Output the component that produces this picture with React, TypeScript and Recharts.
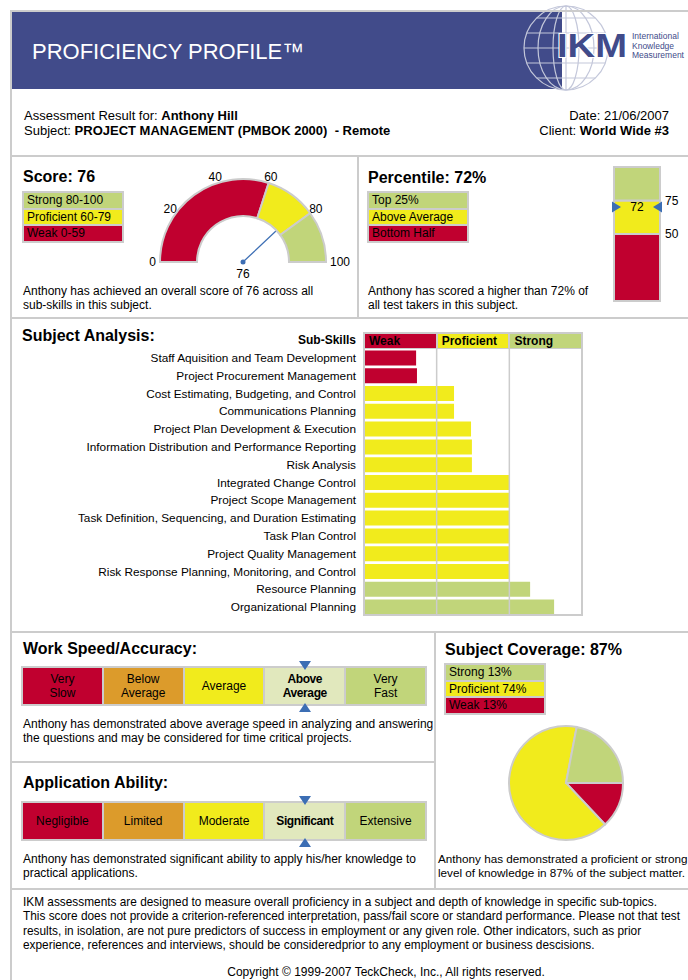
import React from "react";
import {
  PieChart,
  Pie,
  Cell,
  BarChart,
  Bar,
  XAxis,
  YAxis,
  ReferenceLine,
} from "recharts";

const RED = "#c0002f";
const YELLOW = "#f1eb1c";
const GREEN = "#c1d57a";
const ORANGE = "#dc9b2b";
const PALE = "#e1e8bd";
const BLUE = "#414b8a";
const MARK = "#3c6eb4";
const LINE = "#cccccc";
const FONT = "'Liberation Sans', Arial, sans-serif";

const LEVEL_COLOR: Record<string, string> = {
  Weak: RED,
  Proficient: YELLOW,
  Strong: GREEN,
};
const SCALE_COLORS = [RED, ORANGE, YELLOW, PALE, GREEN];

// ── data ──

const candidate = "Anthony Hill";
const subject = "PROJECT MANAGEMENT (PMBOK 2000)  - Remote";
const reportDate = "21/06/2007";
const client = "World Wide #3";

const score = 76;
const gaugeBands = ["Weak", "Proficient", "Strong"];
const gaugeBandWidths = [60, 20, 20];
const gaugeTicks = [0, 20, 40, 60, 80, 100];
const scoreLegend = ["Strong 80-100", "Proficient 60-79", "Weak 0-59"];

const percentile = 72;
const percentileBands = ["Bottom Half", "Above Average", "Top 25%"];
const percentileBandWidths = [50, 25, 25];
const percentileTicks = [50, 75];
const percentileLegend = ["Top 25%", "Above Average", "Bottom Half"];

const subSkills = [
  "Staff Aquisition and Team Development",
  "Project Procurement Management",
  "Cost Estimating, Budgeting, and Control",
  "Communications Planning",
  "Project Plan Development & Execution",
  "Information Distribution and Performance Reporting",
  "Risk Analysis",
  "Integrated Change Control",
  "Project Scope Management",
  "Task Definition, Sequencing, and Duration Estimating",
  "Task Plan Control",
  "Project Quality Management",
  "Risk Response Planning, Monitoring, and Control",
  "Resource Planning",
  "Organizational Planning",
];
const subSkillValues = [
  23.9, 24.3, 41.3, 41.3, 49.1, 49.5, 49.5, 66.7, 66.7, 66.7, 66.7, 66.7, 66.7,
  76.2, 87.2,
];
const subSkillLevels = [
  "Weak", "Weak", "Proficient", "Proficient", "Proficient", "Proficient",
  "Proficient", "Proficient", "Proficient", "Proficient", "Proficient",
  "Proficient", "Proficient", "Strong", "Strong",
];
const skillBandEdges = [33.33, 66.67];
const skillHeaders = ["Weak", "Proficient", "Strong"];

const speedLevels = ["Very\nSlow", "Below\nAverage", "Average", "Above\nAverage", "Very\nFast"];
const speedResult = 3;
const abilityLevels = ["Negligible", "Limited", "Moderate", "Significant", "Extensive"];
const abilityResult = 3;

const coverage = 87;
const coverageLegend = ["Strong 13%", "Proficient 74%", "Weak 13%"];
const coverageSlices = ["Weak", "Proficient", "Strong"];
const coverageSliceValues = [13, 65, 22];

const footerLines = [
  "IKM assessments are designed to measure overall proficiency in a subject and depth of knowledge in specific sub-topics.",
  "This score does not provide a criterion-referenced interpretation, pass/fail score or standard performance. Please not that test",
  "results, in isolation, are not pure predictors of success in employment or any given role. Other indicators, such as prior",
  "experience, references and interviews, should be consideredprior to any employment or business descisions.",
];

// ── helpers ──

function Box({ x, y, w, h, style, children }: any) {
  return (
    <div
      style={{
        position: "absolute",
        left: x,
        top: y,
        width: w,
        height: h,
        ...style,
      }}
    >
      {children}
    </div>
  );
}

function Text({ x, y, size = 12, bold = false, align = "left", w, children }: any) {
  return (
    <div
      style={{
        position: "absolute",
        left: x,
        top: y,
        width: w,
        fontSize: size,
        lineHeight: `${Math.round(size * 1.15)}px`,
        fontWeight: bold ? "bold" : "normal",
        textAlign: align,
        whiteSpace: "pre",
      }}
    >
      {children}
    </div>
  );
}

function Legend({ x, y, items, colors }: any) {
  return (
    <div
      style={{
        position: "absolute",
        left: x,
        top: y,
        width: 100,
        border: `1px solid ${LINE}`,
      }}
    >
      {items.map((label: string, i: number) => (
        <div
          key={label}
          style={{
            height: 14.5,
            background: colors[i],
            border: `1px solid ${LINE}`,
            fontSize: 12,
            lineHeight: "14.5px",
            paddingLeft: 3,
          }}
        >
          {label}
        </div>
      ))}
    </div>
  );
}

// ── Score gauge ──

function Gauge() {
  const cx = 100;
  const cy = 97;
  const rows = gaugeBands.map((name, i) => ({ name, value: gaugeBandWidths[i] }));
  const rad = (v: number) => ((180 - v * 1.8) * Math.PI) / 180;
  const needleX = cx + 66 * Math.cos(rad(score));
  const needleY = cy - 66 * Math.sin(rad(score));
  return (
    <PieChart width={210} height={125} margin={{ top: 0, right: 0, bottom: 0, left: 0 }}>
      <Pie
        data={rows}
        dataKey="value"
        cx={cx}
        cy={cy}
        innerRadius={46}
        outerRadius={83}
        startAngle={180}
        endAngle={0}
        stroke={LINE}
        strokeWidth={2}
        isAnimationActive={false}
      >
        {rows.map((r) => (
          <Cell key={r.name} fill={LEVEL_COLOR[r.name]} />
        ))}
      </Pie>
      <g fontFamily={FONT} fontSize={12} fill="#000">
        {gaugeTicks.map((t) => {
          const c = Math.cos(rad(t));
          const edge = Math.abs(c) > 0.99;
          const r = edge ? 87 : 90;
          return (
            <text
              key={t}
              x={cx + r * c}
              y={cy - r * Math.sin(rad(t))}
              dy="0.35em"
              textAnchor={edge ? (c < 0 ? "end" : "start") : "middle"}
            >
              {t}
            </text>
          );
        })}
        <text x={cx} y={cy} dy={15.5} textAnchor="middle">
          {score}
        </text>
      </g>
      <line x1={cx} y1={cy} x2={needleX} y2={needleY} stroke={MARK} strokeWidth={1.3} />
      <circle cx={cx} cy={cy} r={2.5} fill={MARK} />
    </PieChart>
  );
}

// ── Percentile bar ──

const PercentileMarker = (props: any) => {
  const { x, y, width } = props.viewBox;
  return (
    <g>
      <path d={`M${x - 2},${y - 3} L${x + 7},${y + 2.5} L${x - 2},${y + 8} Z`} fill={MARK} />
      <path
        d={`M${x + width + 2},${y - 3} L${x + width - 7},${y + 2.5} L${x + width + 2},${y + 8} Z`}
        fill={MARK}
      />
      <text x={x + width / 2} y={y + 2.5} dy="0.35em" textAnchor="middle" fontSize={12} fontFamily={FONT} fill="#000">
        {percentile}
      </text>
    </g>
  );
};

function PercentileBar() {
  const row: any = { name: "pct" };
  percentileBands.forEach((b, i) => (row[b] = percentileBandWidths[i]));
  const colors = [RED, YELLOW, GREEN];
  return (
    <BarChart
      width={84}
      height={146}
      data={[row]}
      margin={{ top: 5, right: 0, bottom: 7, left: 8 }}
      barCategoryGap={0}
    >
      <XAxis dataKey="name" hide />
      <YAxis
        orientation="right"
        domain={[0, 100]}
        ticks={percentileTicks}
        axisLine={false}
        tickLine={false}
        tickSize={3}
        tickMargin={2}
        width={30}
        tick={{ fill: "#000", fontSize: 12, fontFamily: FONT, textAnchor: "start" }}
      />
      {percentileBands.map((b, i) => (
        <Bar
          key={b}
          dataKey={b}
          stackId="p"
          fill={colors[i]}
          stroke={LINE}
          strokeWidth={2}
          isAnimationActive={false}
        />
      ))}
      <ReferenceLine y={percentile} stroke="none" label={<PercentileMarker />} />
    </BarChart>
  );
}

// ── Sub-skill bars ──

const SkillTick = ({ x, y, payload }: any) => (
  <text
    x={x}
    y={y}
    dy="0.35em"
    textAnchor="end"
    fontSize={11.8}
    fontFamily={FONT}
    fill="#000"
  >
    {payload.value}
  </text>
);

function SubSkillChart() {
  const rows = subSkills.map((skill, i) => ({
    skill,
    value: subSkillValues[i],
    level: subSkillLevels[i],
  }));
  return (
    <BarChart
      layout="vertical"
      width={522}
      height={267}
      data={rows}
      margin={{ top: 0, right: 0, bottom: 0, left: 0 }}
      barCategoryGap={1.4}
    >
      <XAxis type="number" domain={[0, 100]} hide />
      <YAxis
        type="category"
        dataKey="skill"
        width={304}
        interval={0}
        axisLine={false}
        tickLine={false}
        tickSize={0}
        tickMargin={8}
        tick={<SkillTick />}
      />
      <Bar dataKey="value" isAnimationActive={false}>
        {rows.map((r) => (
          <Cell key={r.skill} fill={LEVEL_COLOR[r.level]} />
        ))}
      </Bar>
      {skillBandEdges.map((e) => (
        <ReferenceLine key={e} x={e} stroke={LINE} strokeWidth={1.5} />
      ))}
    </BarChart>
  );
}

// ── Coverage pie ──

function CoveragePie() {
  const rows = coverageSlices.map((name, i) => ({ name, value: coverageSliceValues[i] }));
  return (
    <PieChart width={140} height={130} margin={{ top: 0, right: 0, bottom: 0, left: 0 }}>
      <Pie
        data={rows}
        dataKey="value"
        cx={70}
        cy={65}
        outerRadius={57}
        startAngle={0}
        endAngle={-360}
        stroke={LINE}
        strokeWidth={2}
        isAnimationActive={false}
      >
        {rows.map((r) => (
          <Cell key={r.name} fill={LEVEL_COLOR[r.name]} />
        ))}
      </Pie>
    </PieChart>
  );
}

// ── Level scale (speed / ability) ──

function LevelScale({ top, labels, selected }: any) {
  const left = 21;
  const width = 406;
  const height = 40;
  const mid = left + ((selected + 0.5) * width) / labels.length;
  return (
    <>
      <div
        style={{
          position: "absolute",
          left,
          top,
          width,
          height,
          display: "flex",
          border: `1px solid ${LINE}`,
          boxSizing: "border-box",
        }}
      >
        {labels.map((l: string, i: number) => (
          <div
            key={l}
            style={{
              flex: 1,
              background: SCALE_COLORS[i],
              border: `1px solid ${LINE}`,
              display: "flex",
              alignItems: "center",
              justifyContent: "center",
              textAlign: "center",
              whiteSpace: "pre",
              fontSize: 12,
              lineHeight: "14px",
              fontWeight: i === selected ? "bold" : "normal",
              letterSpacing: i === selected ? -0.4 : 0,
            }}
          >
            {l}
          </div>
        ))}
      </div>
      <svg style={{ position: "absolute", left: mid - 6, top: top - 5 }} width={12} height={9}>
        <polygon points="0,0 12,0 6,9" fill={MARK} />
      </svg>
      <svg style={{ position: "absolute", left: mid - 6, top: top + height - 3 }} width={12} height={9}>
        <polygon points="0,9 12,9 6,0" fill={MARK} />
      </svg>
    </>
  );
}

// ── Logo ──

function Logo() {
  const cx = 46;
  const cy = 48;
  const r = 42;
  const lats = [-30, -15, 0, 15, 30];
  return (
    <svg style={{ position: "absolute", left: 520, top: 0 }} width={168} height={100}>
      <g fill="none" stroke="#c3c7da" strokeWidth={1.2}>
        <circle cx={cx} cy={cy} r={r} />
        <ellipse cx={cx} cy={cy} rx={28} ry={r} />
        <ellipse cx={cx} cy={cy} rx={13} ry={r} />
        <line x1={cx} y1={cy - r} x2={cx} y2={cy + r} />
        {lats.map((d) => {
          const half = Math.sqrt(r * r - d * d);
          return <line key={d} x1={cx - half} y1={cy + d} x2={cx + half} y2={cy + d} />;
        })}
      </g>
      <text
        x={37}
        y={57}
        fontFamily={FONT}
        fontWeight="bold"
        fontSize={34}
        fill={BLUE}
        stroke="#fff"
        strokeWidth={2}
        paintOrder="stroke"
        textLength={70}
        lengthAdjust="spacingAndGlyphs"
      >
        IKM
      </text>
      <g fontFamily={FONT} fontSize={8.5} fill={BLUE}>
        <text x={112} y={39}>International</text>
        <text x={112} y={48.5}>Knowledge</text>
        <text x={112} y={58}>Measurement</text>
      </g>
    </svg>
  );
}

export default function App() {
  const hLine = (y: number, x1: number, x2: number) => (
    <Box x={x1} y={y} w={x2 - x1} h={2} style={{ background: LINE }} />
  );
  const vLine = (x: number, y1: number, y2: number) => (
    <Box x={x} y={y1} w={2} h={y2 - y1} style={{ background: LINE }} />
  );

  return (
    <div
      style={{
        position: "absolute",
        left: 0,
        top: 0,
        width: 688,
        height: 980,
        overflow: "hidden",
        background: "#fff",
        fontFamily: FONT,
        color: "#000",
      }}
    >
      {/* header */}
      <Box x={11} y={12} w={551} h={77} style={{ background: BLUE }} />
      <Logo />
      <div
        style={{
          position: "absolute",
          left: 32,
          top: 39,
          fontSize: 22,
          lineHeight: "25px",
          color: "#fff",
        }}
      >
        PROFICIENCY PROFILE™
      </div>

      <Text x={24} y={108} size={13}>
        Assessment Result for: <b>{candidate}</b>
      </Text>
      <Text x={24} y={123} size={13}>
        Subject: <b>{subject}</b>
      </Text>
      <Text x={419} y={108} w={250} size={13} align="right">
        Date: {reportDate}
      </Text>
      <Text x={419} y={123} w={250} size={13} align="right">
        Client: <b>{client}</b>
      </Text>

      {/* frame lines */}
      {hLine(10, 10, 688)}
      {vLine(10, 10, 980)}
      {hLine(155, 10, 688)}
      {vLine(357, 155, 318)}
      {hLine(317, 10, 688)}
      {hLine(631, 10, 688)}
      {vLine(434, 632, 889)}
      {hLine(761, 10, 435)}
      {hLine(888, 10, 688)}

      {/* score */}
      <Text x={23} y={168} size={16} bold>
        Score: {score}
      </Text>
      <Legend x={22} y={191} items={scoreLegend} colors={[GREEN, YELLOW, RED]} />
      <Box x={143} y={165}>
        <Gauge />
      </Box>
      <Text x={23} y={284}>
        {`Anthony has achieved an overall score of ${score} across all\nsub-skills in this subject.`}
      </Text>

      {/* percentile */}
      <Text x={368} y={169} size={16} bold>
        Percentile: {percentile}%
      </Text>
      <Legend x={367} y={191} items={percentileLegend} colors={[GREEN, YELLOW, RED]} />
      <Box x={606} y={162}>
        <PercentileBar />
      </Box>
      <Text x={368} y={284}>
        {`Anthony has scored a higher than ${percentile}% of\nall test takers in this subject.`}
      </Text>

      {/* subject analysis */}
      <Text x={22} y={327} size={16} bold>
        Subject Analysis:
      </Text>
      <Text x={156} y={333} w={200} align="right" bold>
        Sub-Skills
      </Text>
      <Box x={60} y={349}>
        <SubSkillChart />
      </Box>
      <Box
        x={363}
        y={332}
        w={220}
        h={284}
        style={{ border: `2px solid ${LINE}`, boxSizing: "border-box", pointerEvents: "none" }}
      />
      {skillHeaders.map((l, i) => (
        <Box
          key={l}
          x={364 + i * 72.7}
          y={333}
          w={72.7}
          h={16}
          style={{
            background: LEVEL_COLOR[l],
            border: `1px solid ${LINE}`,
            boxSizing: "border-box",
            fontSize: 12,
            fontWeight: "bold",
            lineHeight: "14px",
            paddingLeft: 4,
          }}
        >
          {l}
        </Box>
      ))}

      {/* work speed */}
      <Text x={23} y={640} size={16} bold>
        Work Speed/Accuracy:
      </Text>
      <LevelScale top={666} labels={speedLevels} selected={speedResult} />
      <Text x={23} y={717}>
        {"Anthony has demonstrated above average speed in analyzing and answering\nthe questions and may be considered for time critical projects."}
      </Text>

      {/* application ability */}
      <Text x={23} y={774} size={16} bold>
        Application Ability:
      </Text>
      <LevelScale top={801} labels={abilityLevels} selected={abilityResult} />
      <Text x={23} y={852}>
        {"Anthony has demonstrated significant ability to apply his/her knowledge to\npractical applications."}
      </Text>

      {/* coverage */}
      <Text x={445} y={641} size={16} bold>
        Subject Coverage: {coverage}%
      </Text>
      <Legend x={444} y={663} items={coverageLegend} colors={[GREEN, YELLOW, RED]} />
      <Box x={496} y={718}>
        <CoveragePie />
      </Box>
      <div
        style={{
          position: "absolute",
          left: 438,
          top: 852,
          fontSize: 11.7,
          lineHeight: "14px",
          whiteSpace: "pre",
        }}
      >
        {`Anthony has demonstrated a proficient or strong\nlevel of knowledge in ${coverage}% of the subject matter.`}
      </div>

      {/* footer */}
      <div
        style={{
          position: "absolute",
          left: 23,
          top: 895,
          fontSize: 11.85,
          lineHeight: "14.3px",
          whiteSpace: "pre",
        }}
      >
        {footerLines.join("\n")}
      </div>
      <Text x={186} y={965} w={400} align="center">
        Copyright © 1999-2007 TeckCheck, Inc., All rights reserved.
      </Text>
    </div>
  );
}
